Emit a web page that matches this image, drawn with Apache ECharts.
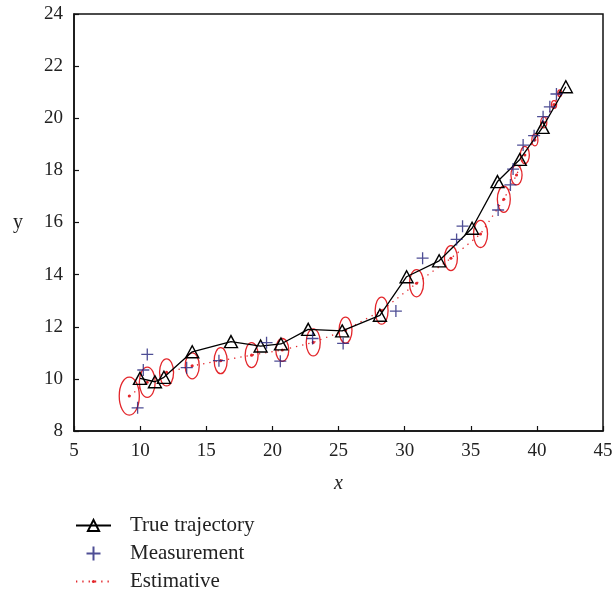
<!DOCTYPE html>
<html>
<head>
<meta charset="utf-8">
<script src="https://cdn.jsdelivr.net/npm/echarts@6/dist/echarts.min.js"></script>
<style>
html,body{margin:0;padding:0;background:#fff;}
#c{width:613px;height:592px;}
</style>
</head>
<body>
<div id="c"></div>
<script>
// True trajectory
const trueX = [9.99, 11.12, 11.8, 13.94, 16.87, 19.11, 20.65, 22.71, 25.28, 28.13, 30.15, 32.61, 35.1, 37.02, 38.71, 40.43, 42.19];
const trueY = [10.02, 9.89, 10.06, 11.04, 11.43, 11.26, 11.34, 11.9, 11.84, 12.44, 13.92, 14.53, 15.78, 17.57, 18.42, 19.65, 21.21];
// Measurements
const measX = [9.81, 10.24, 10.54, 13.52, 15.96, 19.56, 20.6, 23.04, 25.35, 29.34, 31.36, 33.93, 34.38, 37.07, 38.0, 38.2, 38.96, 39.79, 40.47, 40.98, 41.48];
const measY = [8.89, 10.34, 10.94, 10.43, 10.70, 11.39, 10.68, 11.55, 11.36, 12.6, 14.63, 15.35, 15.86, 16.48, 17.44, 18.05, 18.97, 19.33, 20.06, 20.44, 20.93];
// Estimates and covariance ellipse semi-axes (data units)
const estX = [9.18, 10.54, 12.0, 13.94, 16.09, 18.43, 20.75, 23.09, 25.53, 28.26, 30.9, 33.5, 35.74, 37.5, 38.46, 39.09, 39.85, 40.52, 41.3, 41.73];
const estY = [9.34, 9.87, 10.25, 10.5, 10.70, 10.91, 11.11, 11.40, 11.87, 12.62, 13.67, 14.63, 15.56, 16.89, 17.82, 18.59, 19.17, 19.84, 20.53, 20.96];
const ellRx = [0.76, 0.60, 0.53, 0.53, 0.49, 0.49, 0.49, 0.53, 0.49, 0.49, 0.53, 0.49, 0.53, 0.49, 0.42, 0.34, 0.23, 0.23, 0.19, 0.15];
const ellRy = [0.73, 0.58, 0.52, 0.50, 0.50, 0.48, 0.44, 0.52, 0.50, 0.52, 0.52, 0.48, 0.52, 0.50, 0.38, 0.33, 0.23, 0.21, 0.15, 0.13];
// Axis ticks
const xTicks = {min: 5, max: 45, interval: 5};
const yTicks = {min: 8, max: 24, interval: 2};

const FONT = 'Liberation Serif';
const RED = '#e3262b';
const NAVY = '#22227a';

const chart = echarts.init(document.getElementById('c'), null, {renderer: 'canvas'});
const plusPath = 'path://M0,5L10,5M5,0L5,10';
const smallDot = 'path://M0,0M10,10M5,3.6A1.4,1.4,0,1,1,5,6.4A1.4,1.4,0,1,1,5,3.6Z';

const axisCommon = {
  axisLine: {show: true, lineStyle: {color: '#111', width: 1.5}},
  axisTick: {show: true, inside: true, length: 5, lineStyle: {color: '#111', width: 1.2}},
  splitLine: {show: false}
};

chart.setOption({
  animation: false,
  backgroundColor: '#fff',
  grid: {left: 74, right: 10, top: 14, bottom: 161, containLabel: false, outerBoundsMode: 'none',
         show: true, borderColor: '#111', borderWidth: 1.5, backgroundColor: 'transparent'},
  xAxis: Object.assign({}, axisCommon, {
    type: 'value', min: xTicks.min, max: xTicks.max, interval: xTicks.interval,
    name: 'x', nameLocation: 'middle', nameGap: 43,
    nameTextStyle: {color: '#222', fontFamily: FONT, fontSize: 20, fontStyle: 'italic'},
    axisLabel: {color: '#222', fontFamily: FONT, fontSize: 19, margin: 11}
  }),
  yAxis: Object.assign({}, axisCommon, {
    type: 'value', min: yTicks.min, max: yTicks.max, interval: yTicks.interval,
    name: 'y', nameLocation: 'middle', nameGap: 51, nameRotate: 0,
    nameTextStyle: {color: '#222', fontFamily: FONT, fontSize: 20},
    axisLabel: {color: '#222', fontFamily: FONT, fontSize: 19, margin: 11}
  }),
  legend: {
    orient: 'vertical', left: 75, top: 515, padding: 0, height: 77,
    itemWidth: 35, itemHeight: 14, itemGap: 7,
    textStyle: {color: '#222', fontFamily: FONT, fontSize: 21, lineHeight: 21, padding: [0, 0, 0, 14]},
    data: [
      {name: 'True trajectory'},
      {name: 'Measurement'},
      {name: 'Estimative'}
    ]
  },
  series: [
    {
      name: 'ellipses', type: 'custom', silent: true,
      data: estX.map((x, i) => [x, estY[i], ellRx[i], ellRy[i]]),
      encode: {x: 0, y: 1},
      renderItem: function (params, api) {
        const c = api.coord([api.value(0), api.value(1)]);
        const s = api.size([api.value(2), api.value(3)]);
        return {type: 'ellipse', shape: {cx: c[0], cy: c[1], rx: s[0], ry: s[1]},
                style: {fill: 'none', stroke: RED, lineWidth: 1.3}};
      },
      z: 2
    },
    {
      name: 'Estimative', type: 'line',
      data: estX.map((x, i) => [x, estY[i]]),
      symbol: smallDot, symbolSize: 11, showSymbol: true,
      itemStyle: {color: RED},
      lineStyle: {color: RED, width: 1.3, type: [1.3, 5]},
      z: 3
    },
    {
      name: 'True trajectory', type: 'line',
      data: trueX.map((x, i) => [x, trueY[i]]),
      symbol: 'triangle', symbolSize: [13, 12], showSymbol: true,
      itemStyle: {color: 'rgba(255,255,255,0)', borderColor: '#000', borderWidth: 1.4},
      lineStyle: {color: '#000', width: 1.3},
      z: 4
    },
    {
      name: 'Measurement', type: 'scatter',
      data: measX.map((x, i) => [x, measY[i]]),
      symbol: plusPath, symbolSize: 12,
      itemStyle: {color: 'none', borderColor: NAVY, borderWidth: 1.3},
      z: 5
    }
  ]
});
</script>
</body>
</html>
